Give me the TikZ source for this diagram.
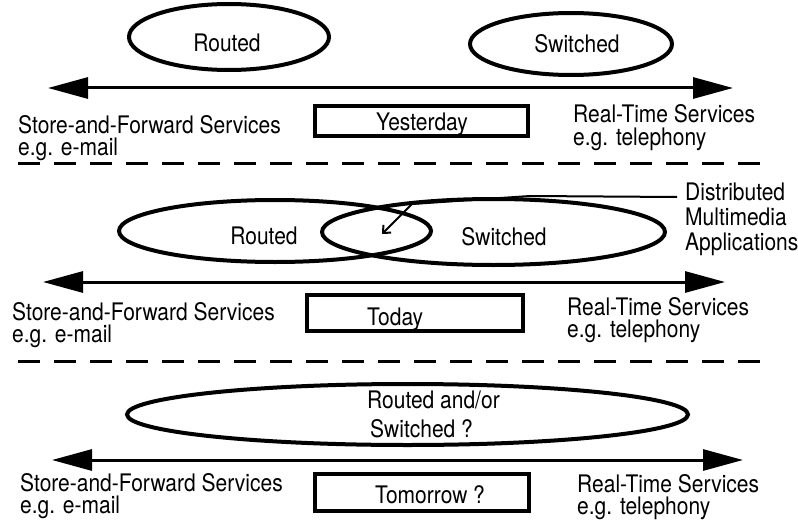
\documentclass[tikz,border=0pt]{standalone}
\usepackage{fontspec}
\setmainfont{TeX Gyre Heros}
\usetikzlibrary{arrows.meta}
% tall sans lettering
\newcommand\stretchtxt[1]{\scalebox{1}[1.15]{#1}}

\begin{document}
\begin{tikzpicture}[x=1pt,y=-1pt,
  txt/.style={inner sep=0pt, font=\fontsize{21}{25}\selectfont},
  lbl/.style={txt, anchor=base west},
  ctr/.style={txt, anchor=base},
  oval/.style={line width=4pt},
  frame/.style={draw, line width=4pt, inner sep=0pt},
  axis/.style={line width=3pt,
    {Triangle[length=40pt,width=21pt]}-{Triangle[length=40pt,width=21pt]}},
  divider/.style={line width=3pt, dash pattern=on 22pt off 14pt},
  leader/.style={line width=2pt, -{Straight Barb[length=6pt,width=11pt]}}]

\useasboundingbox (0,0) rectangle (798,527);

% ---------- Yesterday ----------
\draw[oval] (229,37) ellipse [x radius=100, y radius=33];
\draw[oval] (571,44) ellipse [x radius=101, y radius=31];
\node[ctr] (routedA) at (227,52) {\stretchtxt{Routed}};
\node[ctr] (switchedA) at (577,53) {\stretchtxt{Switched}};

\coordinate (axAl) at (48,88);
\coordinate (axAr) at (733,88);
\draw[axis] (axAl) -- (axAr);

\node[lbl] (sfA1) at (18,133) {\stretchtxt{Store-and-Forward Services}};
\node[lbl] (sfA2) at (18,155) {\stretchtxt{e.g. e-mail}};
\node[lbl] (rtA1) at (573,122) {\stretchtxt{Real-Time Services}};
\node[lbl] (rtA2) at (573,145) {\stretchtxt{e.g. telephony}};

\node[frame, minimum width=213pt, minimum height=30pt] (yestbox) at (421.5,121) {};
\node[ctr] (yest) at (422,130) {\stretchtxt{Yesterday}};

\coordinate (dvAl) at (18,163);
\coordinate (dvAr) at (767,163);
\draw[divider] (dvAl) -- (dvAr);

% ---------- Today ----------
\draw[oval] (275,231) ellipse [x radius=156, y radius=31];
\draw[oval] (493.5,232) ellipse [x radius=171.5, y radius=33];
\node[ctr] (routedB) at (264,244) {\stretchtxt{Routed}};
\node[ctr] (switchedB) at (504,245) {\stretchtxt{Switched}};

\node[lbl] (dma1) at (685,200) {\stretchtxt{Distributed}};
\node[lbl] (dma2) at (685,225) {\stretchtxt{Multimedia}};
\node[lbl] (dma3) at (685,250) {\stretchtxt{Applications}};
\coordinate (dmaStart) at (677,197);
\coordinate (lensMid) at (382,234);
\draw[leader] (dmaStart) -- (530,196) -- (412,204) -- (lensMid);

\coordinate (axBl) at (43,282);
\coordinate (axBr) at (725,282);
\draw[axis] (axBl) -- (axBr);

\node[lbl] (sfB1) at (12,320) {\stretchtxt{Store-and-Forward Services}};
\node[lbl] (sfB2) at (12,342) {\stretchtxt{e.g. e-mail}};
\node[lbl] (rtB1) at (567,315) {\stretchtxt{Real-Time Services}};
\node[lbl] (rtB2) at (567,337) {\stretchtxt{e.g. telephony}};

\node[frame, minimum width=216pt, minimum height=36pt] (todaybox) at (415,313) {};
\node[lbl] (today) at (367,325) {\stretchtxt{Today}};

\coordinate (dvBl) at (18,361);
\coordinate (dvBr) at (767,361);
\draw[divider] (dvBl) -- (dvBr);

% ---------- Tomorrow ----------
\draw[oval] (407.5,414.5) ellipse [x radius=280.5, y radius=30.5];
\node[lbl] (rs1) at (367,408) {\stretchtxt{Routed and/or}};
\node[lbl] (rs2) at (370,437) {\stretchtxt{Switched ?}};

\coordinate (axCl) at (52,460);
\coordinate (axCr) at (743,460);
\draw[axis] (axCl) -- (axCr);

\node[lbl] (sfC1) at (20,491) {\stretchtxt{Store-and-Forward Services}};
\node[lbl] (sfC2) at (20,513) {\stretchtxt{e.g. e-mail}};
\node[lbl] (rtC1) at (577,492) {\stretchtxt{Real-Time Services}};
\node[lbl] (rtC2) at (577,514) {\stretchtxt{e.g. telephony}};

\node[frame, minimum width=214pt, minimum height=37pt] (tombox) at (422,492.5) {};
\node[ctr] (tomorrow) at (430,503) {\stretchtxt{Tomorrow ?}};
\end{tikzpicture}
\end{document}
